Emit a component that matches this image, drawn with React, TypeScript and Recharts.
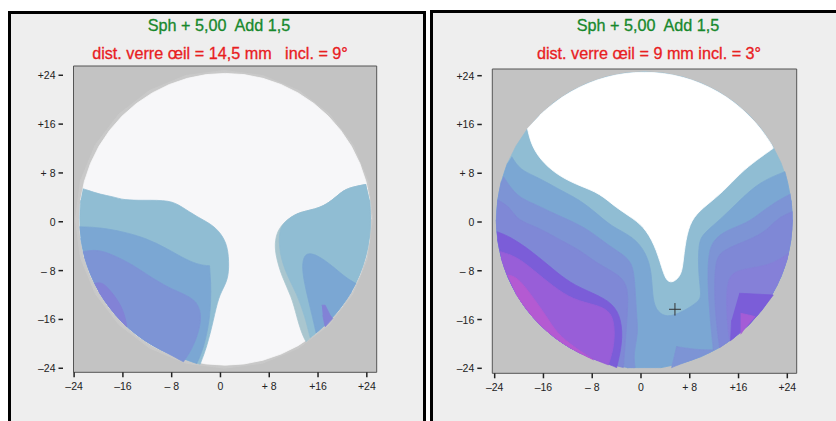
import React from "react";
import { ScatterChart, Scatter, XAxis, YAxis, CartesianGrid, ReferenceArea } from "recharts";

type Pt = [number, number];

// a read point the smoothed outline has to pass through exactly
const corner = (x: number, y: number): Pt[] => [[x, y], [x, y], [x, y]];

// tick values and labels, shared by both maps
const TICKS = [-24, -16, -8, 0, 8, 16, 24];
const TICK_LABELS: Record<string, string> = {
  "-24": "–24",
  "-16": "–16",
  "-8": "– 8",
  "0": "0",
  "8": "+ 8",
  "16": "+16",
  "24": "+24",
};

// ─── Left map: 14,5 mm / 9° ───────────────────────────────────────────────────
const RING_A: Pt[] = [
  [25, 0.4], [24.17, 6.72], [21.73, 12.6], [17.85, 17.65], [12.8, 21.53], [6.92, 23.97], [0.6, 24.8],
  [-5.72, 23.97], [-11.6, 21.53], [-16.65, 17.65], [-20.53, 12.6], [-22.97, 6.72], [-23.8, 0.4],
  [-22.97, -5.92], [-20.53, -11.8], [-16.65, -16.85], [-11.6, -20.73], [-5.72, -23.17], [0.6, -24],
  [6.92, -23.17], [12.8, -20.73], [17.85, -16.85], [21.73, -11.8], [24.17, -5.92],
];
const LENS_A: Pt[] = [
  [24.67, 0.41], [24.47, 3.53], [23.86, 6.6], [22.85, 9.56], [21.47, 12.36], [19.73, 14.96], [17.67, 17.31],
  [15.32, 19.37], [12.72, 21.11], [9.92, 22.49], [6.96, 23.5], [3.89, 24.11], [0.77, 24.31], [-2.35, 24.11],
  [-5.42, 23.5], [-8.38, 22.49], [-11.18, 21.11], [-13.78, 19.37], [-16.13, 17.31], [-18.19, 14.96],
  [-19.93, 12.36], [-21.31, 9.56], [-22.32, 6.6], [-22.93, 3.53], [-23.13, 0.41], [-22.93, -2.71],
  [-22.32, -5.78], [-21.31, -8.74], [-19.93, -11.54], [-18.19, -14.14], [-16.13, -16.49], [-13.78, -18.55],
  [-11.18, -20.29], [-8.38, -21.67], [-5.42, -22.68], [-2.35, -23.29], [0.77, -23.49], [3.89, -23.29],
  [6.96, -22.68], [9.92, -21.67], [12.72, -20.29], [15.32, -18.55], [17.67, -16.49], [19.73, -14.14],
  [21.47, -11.54], [22.85, -8.74], [23.86, -5.78], [24.47, -2.71],
];
const A_LEFT_1: Pt[] = [
  [-22.57, 5.41], [-21.8, 5.19], [-19.73, 4.48], [-17.54, 4.1], [-15.9, 3.55], [-12.62, 3.5], [-8.25, 3.55],
  [-6.34, 2.46], [-3.88, 0.82], [-1.15, -0.55], [0.49, -2.46], [1.31, -4.64], [1.42, -8.47], [0.77, -10.38],
  [-0.33, -12.3], [-1.15, -16.12], [-2.24, -20.49], ...corner(-3.33, -23.33), [-5.42, -22.68], [-8.38, -21.67],
  [-11.18, -20.29], [-13.78, -18.55], [-16.13, -16.49], [-18.19, -14.14], [-19.93, -11.54], [-21.31, -8.74],
  [-22.32, -5.78], [-22.93, -2.71], [-23.13, 0.41], [-22.93, 3.53],
];
const A_LEFT_2: Pt[] = [
  [-23.11, -0.82], [-19.73, -0.93], [-15.9, -1.64], [-12.08, -2.73], [-8.8, -4.37], [-5.52, -6.28], [-3.33, -7.1],
  ...corner(-1.8, -7.21), [-1.58, -10.11], [-1.58, -12.84], [-1.8, -16.12], [-2.68, -20.49], ...corner(-3.88, -23.22), [-5.42, -22.68],
  [-8.38, -21.67], [-11.18, -20.29], [-13.78, -18.55], [-16.13, -16.49], [-18.19, -14.14], [-19.93, -11.54],
  [-21.31, -8.74], [-22.32, -5.78], [-22.93, -2.71],
];
const A_LEFT_3: Pt[] = [
  [-22.57, -4.92], [-20.2, -4.48], [-17.54, -5.46], [-14.26, -7.1], [-11.53, -9.02], [-8.25, -10.93], [-5.52, -12.02],
  [-3.88, -13.11], [-3.17, -15.03], [-3.33, -17.21], [-4.43, -20.49], ...corner(-6.07, -22.95), [-8.38, -21.67],
  [-11.18, -20.29], [-13.78, -18.55], [-16.13, -16.49], [-18.19, -14.14], [-19.93, -11.54], [-21.31, -8.74],
  [-22.32, -5.78],
];
const A_LEFT_4: Pt[] = [
  [-20.66, -10.11], [-19.45, -9.84], [-18.09, -11.2], [-16.44, -13.39], [-15.62, -15.57], ...corner(-15.36, -17.2),
  [-16.13, -16.49], [-18.19, -14.14], [-19.93, -11.54],
];
const A_RIGHT_0: Pt[] = [
  [23.88, 6.12], [21.8, 5.74], [20.16, 5.19], [18.52, 3.66], [16.34, 2.19], [13.06, 1.64], [11.15, 0.55], [9.51, -1.09],
  [8.96, -3.01], [8.96, -5.19], [10.05, -9.02], [11.69, -12.3], [12.51, -15.57], [13.33, -18.31], ...corner(14.04, -19.67),
  [15.32, -18.55], [17.67, -16.49], [19.73, -14.14], [21.47, -11.54], [22.85, -8.74], [23.86, -5.78], [24.47, -2.71],
  [24.67, 0.41], [24.47, 3.53],
];
const A_RIGHT_1: Pt[] = [
  [23.88, 6.12], [21.8, 5.74], [20.16, 5.19], [18.52, 3.66], [16.34, 2.19], [13.06, 1.64], [11.15, 0.55], [9.51, -1.09],
  [9.67, -5.19], [10.87, -8.74], [12.51, -11.75], [13.88, -15.57], ...corner(14.7, -18.96), [15.32, -18.55], [17.67, -16.49],
  [19.73, -14.14], [21.47, -11.54], [22.85, -8.74], [23.86, -5.78], [24.47, -2.71], [24.67, 0.41], [24.47, 3.53],
];
const A_RIGHT_2: Pt[] = [
  [22.24, -10.11], [20.71, -9.29], [18.52, -7.38], [16.34, -5.74], [14.7, -5.08], [13.72, -5.46], [13.33, -7.38],
  [13.88, -10.66], [14.97, -15.03], ...corner(15.68, -18.2), [17.67, -16.49], [19.73, -14.14], [21.47, -11.54],
];
const A_RIGHT_3: Pt[] = [
  [16.61, -13.66], [17.16, -13.66], [17.98, -15.3], [18.41, -15.85], [17.16, -17.21], [16.78, -15.3],
];

// ─── Right map: 9 mm / 3° ─────────────────────────────────────────────────────
const LENS_B: Pt[] = [
  [24.85, 0.33], [24.64, 3.5], [24.02, 6.62], [23, 9.63], [21.59, 12.48], [19.83, 15.12], [17.73, 17.51], [15.34, 19.61],
  [12.7, 21.37], [9.85, 22.78], [6.84, 23.8], [3.72, 24.42], [0.55, 24.63], [-2.62, 24.42], [-5.74, 23.8], [-8.75, 22.78],
  [-11.6, 21.37], [-14.24, 19.61], [-16.63, 17.51], [-18.73, 15.12], [-20.49, 12.48], [-21.9, 9.63], [-22.92, 6.62],
  [-23.54, 3.5], [-23.75, 0.33], [-23.54, -2.84], [-22.92, -5.96], [-21.9, -8.97], [-20.49, -11.82], [-18.73, -14.46],
  [-16.63, -16.85], [-14.24, -18.95], [-11.6, -20.71], [-8.75, -22.12], [-5.74, -23.14], [-2.62, -23.76], [-2.2, -23.88],
  [3.3, -23.88], [6.84, -23.14], [9.85, -22.12], [12.7, -20.71], [15.34, -18.95], [17.73, -16.85], [19.83, -14.46],
  [21.59, -11.82], [23, -8.97], [24.02, -5.96], [24.64, -2.84],
];
const B_WHITE: Pt[] = [
  [-18.63, 15.36], [-17.92, 12.35], [-16.01, 9.62], [-13.28, 7.43], [-10, 5.9], [-6.72, 4.7], [-3.99, 2.24], [-1.26, 0.6],
  [0.93, -1.31], [2.57, -4.59], [3.66, -8.42], [4.32, -9.78], [5.3, -9.95], [6.67, -8.69], [6.94, -6.23], [7.49, -1.86],
  [8.58, 0.87], [10.77, 2.79], [13.5, 4.97], [16.23, 7.98], [18.96, 10.16], ...corner(21.69, 12.08), [21.59, 12.48], [19.83, 15.12],
  [17.73, 17.51], [15.34, 19.61], [12.7, 21.37], [9.85, 22.78], [6.84, 23.8], [3.72, 24.42], [0.55, 24.63], [-2.62, 24.42],
  [-5.74, 23.8], [-8.75, 22.78], [-11.6, 21.37], [-14.24, 19.61], [-16.63, 17.51],
];
const B_BAND_2: Pt[] = [
  [-21.2, 10.71], [-19.84, 8.52], [-17.1, 7.43], [-13.28, 5.25], [-10, 3.61], [-7.27, 1.42], [-4.81, -0.77], [-1.26, -2.4],
  [0.93, -5.14], [1.75, -8.42], [1.86, -11.69], [2.3, -14.43], [4.21, -15.79], [6.94, -14.7], [9.4, -13.06], [9.95, -12.24],
  [9.4, -8.42], [9.4, -3.5], [10.22, -1.86], [12.95, 0.33], [16.23, 3.61], [19.51, 6.61], ...corner(23.61, 8.25), [24.02, 6.62],
  [24.64, 3.5], [24.85, 0.33], [24.64, -2.84], [24.02, -5.96], [23, -8.97], [21.59, -11.82], [19.83, -14.46], [17.73, -16.85],
  [15.34, -18.95], [12.7, -20.71], [9.85, -22.12], [6.84, -23.14], ...corner(3.3, -23.88), ...corner(-2.2, -23.88), [-2.62, -23.76], [-5.74, -23.14],
  [-8.75, -22.12], [-11.6, -20.71], [-14.24, -18.95], [-16.63, -16.85], [-18.73, -14.46], [-20.49, -11.82], [-21.9, -8.97],
  [-22.92, -5.96], [-23.54, -2.84], [-23.75, 0.33], [-23.54, 3.5], [-22.92, 6.62], [-21.9, 9.63],
];
const B_LEFT_3: Pt[] = [
  [-22.57, 7.43], [-20.38, 4.15], [-17.65, 3.06], [-14.37, 1.42], [-10.55, -0.22], [-7.81, -1.86], [-5.08, -4.04], [-2.35, -5.68],
  [-1.26, -7.32], [-0.98, -10.6], [-0.71, -15.52], [-0.44, -18.25], [-1.26, -21.53], ...corner(-0.98, -23.88), ...corner(-2.2, -23.88), [-2.62, -23.76],
  [-5.74, -23.14], [-8.75, -22.12], [-11.6, -20.71], [-14.24, -18.95], [-16.63, -16.85], [-18.73, -14.46], [-20.49, -11.82],
  [-21.9, -8.97], [-22.92, -5.96], [-23.54, -2.84], [-23.75, 0.33], [-23.54, 3.5], [-22.92, 6.62],
];
const B_RIGHT_3: Pt[] = [
  [24.5, 4.6], [21.69, 3.06], [19.51, 1.42], [17.32, -0.22], [14.04, -1.31], [11.86, -2.95], [11.04, -5.14], [10.93, -10.05],
  [11.31, -15.52], ...corner(11.86, -20.98), [9.67, -20.98], [7.49, -20.71], ...corner(5.85, -20.44), ...corner(5.03, -23.88), [6.84, -23.14], [9.85, -22.12],
  [12.7, -20.71], [15.34, -18.95], [17.73, -16.85], [19.83, -14.46], [21.59, -11.82], [23, -8.97], [24.02, -5.96], [24.64, -2.84],
  [24.85, 0.33], [24.64, 3.5],
];
const B_LEFT_4: Pt[] = [
  [-23.55, 3.61], [-21.48, 2.51], [-20.38, 0.33], [-17.1, -0.77], [-13.28, -2.95], [-10, -4.59], [-7.27, -6.78], [-3.99, -8.42],
  [-2.35, -10.05], [-2.08, -12.79], [-2.46, -18.25], ...corner(-2.9, -23.88), [-5.74, -23.14], [-8.75, -22.12], [-11.6, -20.71], [-14.24, -18.95],
  [-16.63, -16.85], [-18.73, -14.46], [-20.49, -11.82], [-21.9, -8.97], [-22.92, -5.96], [-23.54, -2.84], [-23.75, 0.33],
];
const B_RIGHT_4: Pt[] = [
  [24.86, 1.69], [22.79, 0.87], [21.15, -0.77], [19.51, -2.13], [16.23, -3.5], [12.95, -4.86], [12.13, -6.78], [12.02, -12.79],
  [12.57, -18.25], ...corner(12.9, -20.6), [15.34, -18.95], [17.73, -16.85], [19.83, -14.46], [21.59, -11.82], [23, -8.97], [24.02, -5.96],
  [24.64, -2.84], [24.85, 0.33],
];
const B_RIGHT_5: Pt[] = [
  [24.26, -5.14], [21.69, -6.78], [19.51, -7.32], [16.23, -7.87], [14.32, -8.69], [13.93, -12.79], [14.32, -18.25], ...corner(14.59, -19.45),
  [15.34, -18.95], [17.73, -16.85], [19.83, -14.46], [21.59, -11.82], [23, -8.97], [24.02, -5.96],
];
const B_LEFT_5: Pt[] = [
  [-23.66, -1.58], [-21.48, -2.4], [-18.2, -4.59], [-14.92, -7.32], [-11.64, -10.05], [-7.81, -11.69], [-4.54, -13.33], [-3.17, -16.07],
  [-3.06, -19.89], ...corner(-3.99, -23.88), [-5.74, -23.14], [-8.75, -22.12], [-11.6, -20.71], [-14.24, -18.95], [-16.63, -16.85], [-18.73, -14.46],
  [-20.49, -11.82], [-21.9, -8.97], [-22.92, -5.96], [-23.54, -2.84],
];
const B_RIGHT_6: Pt[] = [
  [16.12, -11.69], [21.69, -11.97], [19.83, -14.46], [17.73, -16.85], [14.7, -19.45], [14.86, -16.07],
];
const B_LEFT_6: Pt[] = [
  [-23.11, -4.86], [-20.38, -5.68], [-17.65, -7.87], [-14.37, -10.6], [-11.09, -12.79], [-7.27, -13.61], [-4.81, -14.7], [-4.26, -17.7],
  [-4.54, -20.98], ...corner(-5.36, -23.44), [-8.75, -22.12], [-11.6, -20.71], [-14.24, -18.95], [-16.63, -16.85], [-18.73, -14.46], [-20.49, -11.82],
  [-21.9, -8.97], [-22.92, -5.96],
];
const B_RIGHT_7: Pt[] = [
  [16.34, -14.97], [17.6, -15.25], [18.69, -15.52], [17.05, -17.43], [16.34, -18.42],
];
const B_LEFT_7: Pt[] = [
  [-21.91, -8.69], [-20.38, -8.96], [-18.2, -11.69], [-15.46, -15.52], [-13.83, -18.25], [-11.09, -20.44], ...corner(-7.81, -22.6),
  [-11.6, -20.71], [-14.24, -18.95], [-16.63, -16.85], [-18.73, -14.46], [-20.49, -11.82],
];
const CROSS_H: Pt[] = [[4.6, -14.32], [6.55, -14.32]];
const CROSS_V: Pt[] = [[5.57, -13.3], [5.57, -15.35]];

const GREY_RING = "#c9c9c9";
const WHITE_A = "#f7f7f9";
const BLUE_1 = "#90bdd3";
const BLUE_2 = "#7ba7d3";
const BLUE_3 = "#7d94d5";
const BLUE_4 = "#8282d6";
const PURPLE_5 = "#7b5dd8";
const PURPLE_6 = "#985ed8";
const MAGENTA_7 = "#b45ad2";

type Layer = [Pt[], string, "linear" | "basis"];

const LAYERS_A: Layer[] = [
  [RING_A, GREY_RING, "linear"],
  [LENS_A, WHITE_A, "linear"],
  [A_LEFT_1, BLUE_1, "basis"],
  [A_LEFT_2, BLUE_2, "basis"],
  [A_LEFT_3, BLUE_3, "basis"],
  [A_LEFT_4, BLUE_4, "basis"],
  [A_RIGHT_0, "#a9c6cf", "basis"],
  [A_RIGHT_1, BLUE_1, "basis"],
  [A_RIGHT_2, BLUE_2, "basis"],
  [A_RIGHT_3, BLUE_4, "linear"],
];

const LAYERS_B: Layer[] = [
  [LENS_B, BLUE_1, "linear"],
  [B_WHITE, "#ffffff", "basis"],
  [B_BAND_2, BLUE_2, "basis"],
  [B_LEFT_3, BLUE_3, "basis"],
  [B_RIGHT_3, BLUE_3, "basis"],
  [B_LEFT_4, "#7f88d6", "basis"],
  [B_RIGHT_4, "#7f88d6", "basis"],
  [B_RIGHT_5, "#8580d8", "basis"],
  [B_LEFT_5, PURPLE_5, "basis"],
  [B_RIGHT_6, PURPLE_5, "linear"],
  [B_LEFT_6, PURPLE_6, "basis"],
  [B_RIGHT_7, "#a45cd6", "linear"],
  [B_LEFT_7, MAGENTA_7, "basis"],
];

const FONT = "'Liberation Sans', Arial, sans-serif";
const NoDot = () => null;

const toPoints = (pts: Pt[]) => pts.map(([x, y]) => ({ x, y }));

const YTick = ({ x, y, payload }: any) => (
  <g>
    <line x1={x - 7} x2={x - 2.5} y1={y} y2={y} stroke="#222" strokeWidth={1.5} />
    <text x={x - 10} y={y} textAnchor="end" dominantBaseline="central" fontSize={10.5} fontFamily={FONT} fill="#222">
      {TICK_LABELS[String(payload.value)]}
    </text>
  </g>
);

const XTick = ({ x, y, payload }: any) => (
  <text x={x} y={y + 7} textAnchor="middle" dominantBaseline="central" fontSize={10.5} fontFamily={FONT} fill="#222">
    {TICK_LABELS[String(payload.value)]}
  </text>
);

function LensMap({
  left, width, margin, xDomain, yDomain, layers, cross,
}: {
  left: number;
  width: number;
  margin: { top: number; left: number; right: number; bottom: number };
  xDomain: [number, number];
  yDomain: [number, number];
  layers: Layer[];
  cross?: boolean;
}) {
  return (
    <div style={{ position: "absolute", left, top: 0 }}>
      <ScatterChart
        width={width}
        height={421}
        margin={{ top: margin.top, right: margin.right, bottom: 0, left: 0 }}
      >
        <CartesianGrid horizontal={false} vertical={false} fill="#c3c3c3" />
        <XAxis
          type="number"
          dataKey="x"
          domain={xDomain}
          ticks={TICKS}
          interval={0}
          allowDataOverflow
          height={margin.bottom}
          tickLine={{ stroke: "#222", strokeWidth: 1.5 }}
          tickSize={5}
          axisLine={false}
          tick={<XTick />}
        />
        <YAxis
          type="number"
          dataKey="y"
          domain={yDomain}
          ticks={TICKS}
          interval={0}
          allowDataOverflow
          width={margin.left}
          tickLine={false}
          axisLine={false}
          tick={<YTick />}
        />
        {layers.map(([pts, color, joint], i) => (
          <Scatter
            key={i}
            data={toPoints(pts)}
            fill={color}
            line={{ fill: color, stroke: color, strokeWidth: 0.8 }}
            lineJointType={joint}
            shape={NoDot}
            isAnimationActive={false}
          />
        ))}
        {cross && (
          <Scatter data={toPoints(CROSS_H)} line={{ stroke: "#333", strokeWidth: 1, fill: "none" }} shape={NoDot} isAnimationActive={false} />
        )}
        {cross && (
          <Scatter data={toPoints(CROSS_V)} line={{ stroke: "#333", strokeWidth: 1, fill: "none" }} shape={NoDot} isAnimationActive={false} />
        )}
        <ReferenceArea
          x1={xDomain[0]}
          x2={xDomain[1]}
          y1={yDomain[0]}
          y2={yDomain[1]}
          fill="none"
          fillOpacity={0}
          stroke="#555"
          strokeWidth={1}
          ifOverflow="visible"
        />
      </ScatterChart>
    </div>
  );
}

const Title = ({ x, y, color, children }: { x: number; y: number; color: string; children: React.ReactNode }) => (
  <div
    style={{
      position: "absolute",
      left: x - 200,
      width: 400,
      top: y - 10,
      height: 20,
      lineHeight: "20px",
      textAlign: "center",
      color,
      fontFamily: FONT,
      fontSize: 16.2,
      fontWeight: 400,
      whiteSpace: "pre",
      WebkitTextStroke: "0.3px " + color,
    }}
  >
    {children}
  </div>
);

const panel = (left: number, top: number, width: number): React.CSSProperties => ({
  position: "absolute",
  left,
  top,
  width,
  height: 421 - top,
  boxSizing: "border-box",
  background: "#eeeeee",
  borderTop: "3px solid #000",
  borderLeft: "3px solid #000",
  borderRight: "3px solid #000",
});

export default function App() {
  return (
    <div style={{ position: "absolute", left: 0, top: 0, width: 836, height: 421, background: "#fff", overflow: "hidden" }}>
      <div style={panel(8, 11, 418)} />
      <div style={panel(430, 10, 420)} />
      <Title x={219} y={25} color="#17882c">{"Sph + 5,00  Add 1,5"}</Title>
      <Title x={220} y={53} color="#e8201f">{"dist. verre œil = 14,5 mm   incl. = 9°"}</Title>
      <Title x={648} y={25} color="#17882c">{"Sph + 5,00  Add 1,5"}</Title>
      <Title x={649} y={53} color="#e8201f">{"dist. verre œil = 9 mm incl. = 3°"}</Title>
      <LensMap
        left={0}
        width={420}
        margin={{ top: 66, left: 73.5, right: 43.3, bottom: 48.7 }}
        xDomain={[-24.1, 25.62]}
        yDomain={[-24.66, 25.52]}
        layers={LAYERS_A}
      />
      <LensMap
        left={420}
        width={416}
        margin={{ top: 69, left: 72.3, right: 39.3, bottom: 47.7 }}
        xDomain={[-24.39, 25.54]}
        yDomain={[-24.82, 25.1]}
        layers={LAYERS_B}
        cross
      />
    </div>
  );
}
